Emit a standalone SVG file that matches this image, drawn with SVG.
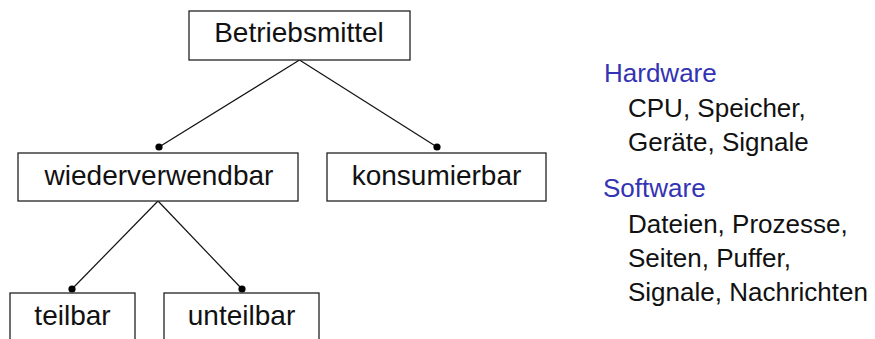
<svg xmlns="http://www.w3.org/2000/svg" width="875" height="339" viewBox="0 0 875 339">
<style>
.box{fill:#fff;stroke:#222;stroke-width:1.3}
.lbl{font-family:"Liberation Sans",Arial,sans-serif;font-size:28px;fill:#111;text-anchor:middle}
.edge{stroke:#111;stroke-width:1.2;fill:none}
.dot{fill:#000}
.hd{font-family:"Liberation Sans",Arial,sans-serif;font-size:26px;fill:#3333b3}
.it{font-family:"Liberation Sans",Arial,sans-serif;font-size:26px;fill:#111}
</style>
<rect width="875" height="339" fill="#fff"/>
<g id="connectors">
<line class="edge" x1="299.5" y1="60" x2="159" y2="147"/>
<line class="edge" x1="299.5" y1="60" x2="437" y2="147"/>
<line class="edge" x1="158" y1="201" x2="72" y2="289"/>
<line class="edge" x1="158" y1="201" x2="242" y2="289"/>
<circle class="dot" cx="159" cy="147" r="3.6"/>
<circle class="dot" cx="437" cy="147" r="3.6"/>
<circle class="dot" cx="72" cy="289" r="3.6"/>
<circle class="dot" cx="242" cy="289" r="3.6"/>
</g>
<g id="betriebsmittel">
<rect class="box" x="189" y="11" width="221" height="49"/>
<text class="lbl" x="299" y="42">Betriebsmittel</text>
</g>
<g id="wiederverwendbar">
<rect class="box" x="18" y="153" width="280" height="48"/>
<text class="lbl" x="159" y="185">wiederverwendbar</text>
</g>
<g id="konsumierbar">
<rect class="box" x="327" y="153" width="219" height="48"/>
<text class="lbl" x="436.5" y="185">konsumierbar</text>
</g>
<g id="teilbar">
<rect class="box" x="10" y="293" width="125" height="60"/>
<text class="lbl" x="72.5" y="325">teilbar</text>
</g>
<g id="unteilbar">
<rect class="box" x="164" y="293" width="155" height="60"/>
<text class="lbl" x="241.5" y="325">unteilbar</text>
</g>
<g id="legend">
<text class="hd" x="604" y="82">Hardware</text>
<text class="it" x="628" y="117">CPU, Speicher,</text>
<text class="it" x="628" y="151">Geräte, Signale</text>
<text class="hd" x="603" y="197">Software</text>
<text class="it" x="628" y="233">Dateien, Prozesse,</text>
<text class="it" x="628" y="267">Seiten, Puffer,</text>
<text class="it" x="628" y="301">Signale, Nachrichten</text>
</g>
</svg>
